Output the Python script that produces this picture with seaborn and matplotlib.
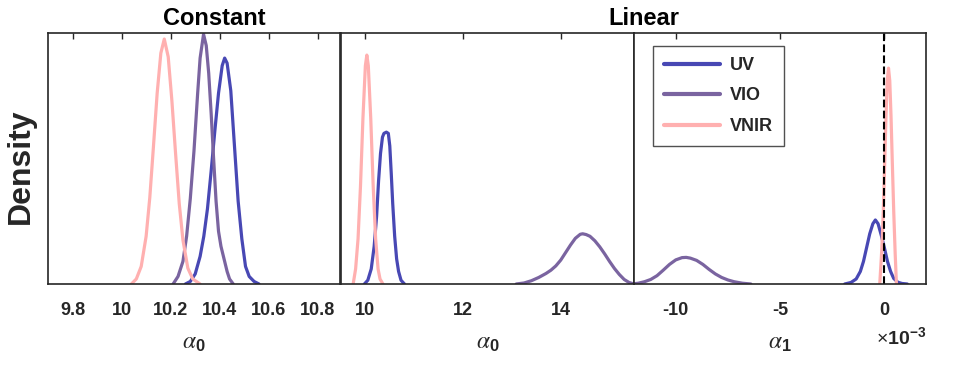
import matplotlib
matplotlib.use('Agg')
import matplotlib.pyplot as plt
from matplotlib.lines import Line2D
import pandas as pd
import seaborn as sns

instruments = ['UV', 'VIO', 'VNIR']
colors = {'UV': '#4848B4', 'VIO': '#7A64A0', 'VNIR': '#FFB0B0'}

# densities are relative (y axis is unlabelled)

# Constant model, alpha_0
const_uv_x = [10.26, 10.28, 10.30, 10.32, 10.335, 10.35, 10.365, 10.38, 10.395, 10.41,
              10.42, 10.43, 10.445, 10.46, 10.475, 10.49, 10.505, 10.52, 10.54, 10.56]
const_uv_y = [0.0, 0.01, 0.04, 0.11, 0.19, 0.30, 0.45, 0.61, 0.76, 0.87,
              0.90, 0.88, 0.77, 0.55, 0.33, 0.18, 0.07, 0.03, 0.01, 0.0]
const_vio_x = [10.21, 10.23, 10.25, 10.265, 10.28, 10.295, 10.31, 10.32, 10.334, 10.345,
               10.355, 10.365, 10.375, 10.385, 10.395, 10.405, 10.415, 10.43, 10.44, 10.455]
const_vio_y = [0.0, 0.03, 0.09, 0.19, 0.34, 0.53, 0.76, 0.90, 0.995, 0.95,
               0.84, 0.68, 0.50, 0.33, 0.21, 0.15, 0.11, 0.05, 0.02, 0.0]
const_vnir_x = [10.04, 10.06, 10.08, 10.10, 10.115, 10.13, 10.145, 10.16, 10.174,
                10.19, 10.205, 10.22, 10.235, 10.25, 10.27, 10.29, 10.32]
const_vnir_y = [0.0, 0.02, 0.07, 0.19, 0.345, 0.55, 0.76, 0.92, 0.976,
                0.905, 0.73, 0.52, 0.32, 0.175, 0.063, 0.02, 0.0]

# Linear model, alpha_0
lin0_uv_x = [9.98, 10.05, 10.12, 10.18, 10.23, 10.27, 10.31, 10.35, 10.38, 10.43,
             10.47, 10.50, 10.53, 10.56, 10.60, 10.64, 10.68, 10.73, 10.80]
lin0_uv_y = [0.0, 0.015, 0.06, 0.15, 0.27, 0.41, 0.52, 0.585, 0.60, 0.605,
             0.60, 0.55, 0.44, 0.32, 0.19, 0.10, 0.05, 0.015, 0.0]
lin0_vio_x = [13.09, 13.25, 13.40, 13.55, 13.70, 13.80, 13.90, 14.00, 14.10, 14.20,
              14.30, 14.40, 14.45, 14.52, 14.60, 14.70, 14.80, 14.90, 15.00, 15.10,
              15.20, 15.30, 15.40, 15.50]
lin0_vio_y = [0.0, 0.004, 0.013, 0.026, 0.042, 0.055, 0.072, 0.095, 0.125, 0.155,
              0.182, 0.198, 0.20, 0.197, 0.19, 0.172, 0.148, 0.12, 0.09, 0.062,
              0.038, 0.018, 0.006, 0.0]
lin0_vnir_x = [9.75, 9.80, 9.85, 9.90, 9.95, 10.00, 10.03, 10.06, 10.11, 10.16,
               10.21, 10.26, 10.30, 10.36]
lin0_vnir_y = [0.0, 0.06, 0.18, 0.39, 0.66, 0.87, 0.912, 0.87, 0.66, 0.39,
               0.18, 0.06, 0.02, 0.0]

# Linear model, alpha_1 (x 1e-3)
lin1_uv_x = [-1.9, -1.6, -1.35, -1.15, -1.0, -0.85, -0.7, -0.55, -0.43, -0.3,
             -0.15, 0.0, 0.15, 0.3, 0.45, 0.65, 0.85, 1.1]
lin1_uv_y = [0.0, 0.006, 0.02, 0.05, 0.09, 0.145, 0.20, 0.24, 0.255, 0.24,
             0.195, 0.145, 0.09, 0.05, 0.022, 0.007, 0.002, 0.0]
lin1_vio_x = [-12.1, -11.8, -11.5, -11.2, -10.9, -10.6, -10.3, -10.0, -9.7, -9.5,
              -9.3, -9.0, -8.7, -8.4, -8.1, -7.8, -7.5, -7.2, -6.8, -6.4]
lin1_vio_y = [0.0, 0.003, 0.009, 0.018, 0.033, 0.055, 0.078, 0.096, 0.105, 0.106,
              0.103, 0.094, 0.078, 0.058, 0.040, 0.026, 0.016, 0.009, 0.003, 0.0]
lin1_vnir_x = [-0.22, -0.12, -0.05, 0.02, 0.08, 0.14, 0.2, 0.26, 0.32, 0.38,
               0.45, 0.52, 0.58]
lin1_vnir_y = [0.0, 0.14, 0.29, 0.49, 0.67, 0.81, 0.86, 0.81, 0.67, 0.49,
               0.29, 0.12, 0.0]

const_ticks = [9.8, 10, 10.2, 10.4, 10.6, 10.8]
const_ticklabels = ['9.8', '10', '10.2', '10.4', '10.6', '10.8']
lin0_ticks = [10, 12, 14]
lin0_ticklabels = ['10', '12', '14']
lin1_ticks = [-10, -5, 0]
lin1_ticklabels = ['-10', '-5', '0']


def to_frame(curves):
    rows = []
    for name, (xs, ys) in curves.items():
        for x, y in zip(xs, ys):
            rows.append({'x': x, 'density': y, 'instrument': name})
    return pd.DataFrame(rows)


def draw_panel(ax, df, xlim, ticks, ticklabels):
    sns.lineplot(data=df, x='x', y='density', hue='instrument',
                 hue_order=instruments, palette=colors, lw=2.3,
                 solid_joinstyle='round', solid_capstyle='round',
                 legend=False, ax=ax)
    ax.set_xlim(*xlim)
    ax.set_ylim(0, 1.0)
    ax.set_yticks([])
    ax.set_xticks(ticks)
    ax.set_xticklabels(ticklabels, fontweight='bold')
    ax.tick_params(axis='x', direction='in', top=True, length=4, width=1,
                   labelsize=13, pad=13, colors='#262626')
    ax.set_ylabel('')
    for sp in ax.spines.values():
        sp.set_visible(True)
        sp.set_color('#262626')
        sp.set_linewidth(1.2)


sns.set_style('white')
plt.rcParams['font.family'] = ['Liberation Sans', 'DejaVu Sans']
plt.rcParams['mathtext.fontset'] = 'custom'
plt.rcParams['mathtext.it'] = 'STIXGeneral:italic'
plt.rcParams['mathtext.rm'] = 'Liberation Sans'
plt.rcParams['mathtext.bf'] = 'Liberation Sans:bold'

fig = plt.figure(figsize=(9.75, 3.75), dpi=100)
ax1 = fig.add_axes([0.0492, 0.2427, 0.2995, 0.6693])
ax2 = fig.add_axes([0.3497, 0.2427, 0.3005, 0.6693])
ax3 = fig.add_axes([0.6503, 0.2427, 0.2995, 0.6693])

df_const = to_frame({'UV': (const_uv_x, const_uv_y),
                     'VIO': (const_vio_x, const_vio_y),
                     'VNIR': (const_vnir_x, const_vnir_y)})
df_lin0 = to_frame({'UV': (lin0_uv_x, lin0_uv_y),
                    'VIO': (lin0_vio_x, lin0_vio_y),
                    'VNIR': (lin0_vnir_x, lin0_vnir_y)})
df_lin1 = to_frame({'UV': (lin1_uv_x, lin1_uv_y),
                    'VIO': (lin1_vio_x, lin1_vio_y),
                    'VNIR': (lin1_vnir_x, lin1_vnir_y)})

draw_panel(ax1, df_const, (9.7, 10.89), const_ticks, const_ticklabels)
draw_panel(ax2, df_lin0, (9.5, 15.5), lin0_ticks, lin0_ticklabels)
draw_panel(ax3, df_lin1, (-12, 2), lin1_ticks, lin1_ticklabels)

ax3.axvline(0, color='k', ls='--', lw=1.5)

for ax in (ax1, ax2):
    ax.set_xlabel(r'$\alpha_\mathbf{0}$', fontsize=17, labelpad=9)
ax3.set_xlabel(r'$\alpha_\mathbf{1}$', fontsize=17, labelpad=9)

ax3.text(1.0, -0.17, r'×$\mathbf{10}^{\mathbf{-3}}$', transform=ax3.transAxes,
         ha='right', va='top', fontsize=14, color='#262626')

handles = [Line2D([], [], color=colors[k], lw=3) for k in instruments]
leg = ax3.legend(handles, instruments, loc='upper left',
                 bbox_to_anchor=(0.065, 0.948), borderaxespad=0,
                 fancybox=False, handlelength=3.1, handletextpad=0.55,
                 labelspacing=0.75, borderpad=0.6,
                 prop={'weight': 'bold', 'size': 13})
leg.get_frame().set_edgecolor('#262626')
leg.get_frame().set_linewidth(1.0)

fig.text(0.22, 0.95, 'Constant', ha='center', va='center',
         fontsize=17, fontweight='bold', color='black')
fig.text(0.6605, 0.95, 'Linear', ha='center', va='center',
         fontsize=17, fontweight='bold', color='black')
fig.text(0.0215, 0.557, 'Density', ha='center', va='center', rotation=90,
         fontsize=23, fontweight='bold', color='#262626')

fig.savefig('out.png', dpi=100)
